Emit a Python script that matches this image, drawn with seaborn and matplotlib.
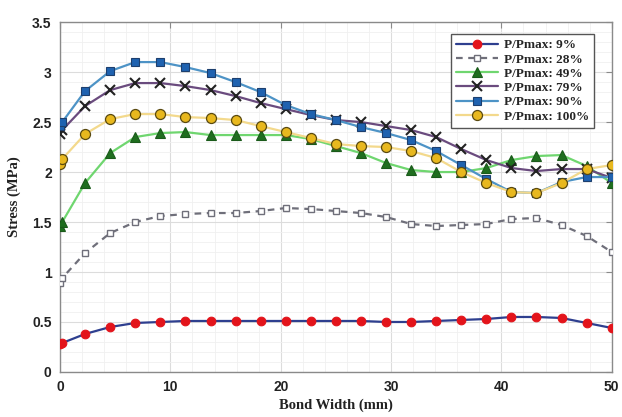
import numpy as np
import pandas as pd
import matplotlib
matplotlib.use("Agg")
import matplotlib.pyplot as plt
import seaborn as sns
from matplotlib.ticker import MultipleLocator

# ---- data ----
bond_width = [0, 0.2, 2.27, 4.55, 6.82, 9.09, 11.36, 13.64, 15.91, 18.18, 20.45, 22.73,
              25.0, 27.27, 29.55, 31.82, 34.09, 36.36, 38.64, 40.91, 43.18, 45.45, 47.73, 50.0]
s09 = [0.28, 0.29, 0.38, 0.45, 0.49, 0.50, 0.51, 0.51, 0.51, 0.51, 0.51, 0.51,
       0.51, 0.51, 0.50, 0.50, 0.51, 0.52, 0.53, 0.55, 0.55, 0.54, 0.49, 0.44]
s28 = [0.89, 0.94, 1.19, 1.39, 1.50, 1.56, 1.58, 1.59, 1.59, 1.61, 1.64, 1.63,
       1.61, 1.59, 1.55, 1.48, 1.46, 1.47, 1.48, 1.53, 1.54, 1.47, 1.36, 1.20]
s49 = [1.46, 1.50, 1.89, 2.19, 2.35, 2.39, 2.40, 2.37, 2.37, 2.37, 2.37, 2.33,
       2.26, 2.19, 2.09, 2.02, 2.00, 2.00, 2.04, 2.12, 2.16, 2.17, 2.06, 1.89]
s79 = [2.38, 2.42, 2.66, 2.82, 2.89, 2.89, 2.86, 2.82, 2.76, 2.69, 2.63, 2.57,
       2.52, 2.50, 2.46, 2.42, 2.35, 2.23, 2.12, 2.04, 2.01, 2.03, 2.03, 1.94]
s90 = [2.46, 2.50, 2.81, 3.01, 3.10, 3.10, 3.05, 2.99, 2.90, 2.80, 2.67, 2.58,
       2.52, 2.45, 2.39, 2.32, 2.21, 2.07, 1.93, 1.80, 1.79, 1.90, 1.95, 1.95]
s100 = [2.08, 2.13, 2.38, 2.53, 2.58, 2.58, 2.55, 2.54, 2.52, 2.46, 2.40, 2.34,
        2.28, 2.26, 2.25, 2.21, 2.14, 2.00, 1.89, 1.80, 1.79, 1.89, 2.03, 2.07]
labels = ["P/Pmax: 9%", "P/Pmax: 28%", "P/Pmax: 49%", "P/Pmax: 79%", "P/Pmax: 90%", "P/Pmax: 100%"]
x_ticks = [0, 10, 20, 30, 40, 50]
y_ticks = [0, 0.5, 1, 1.5, 2, 2.5, 3, 3.5]

series = [s09, s28, s49, s79, s90, s100]
df = pd.concat([pd.DataFrame({"x": bond_width, "y": s, "series": lab})
                for s, lab in zip(series, labels)], ignore_index=True)

styles = {
    "P/Pmax: 9%":   dict(color="#2e3f8f", ls="-",  marker="o", ms=6.2, mfc="#e3141b", mec="#e3141b", mew=0.8),
    "P/Pmax: 28%":  dict(color="#6f6f7a", ls=(0, (3, 2.5)), marker="s", ms=5, mfc="white", mec="#6f6f7a", mew=1.0),
    "P/Pmax: 49%":  dict(color="#6fd66f", ls="-",  marker="^", ms=7.5, mfc="#1f6e1f", mec="#1a5a1a", mew=0.8),
    "P/Pmax: 79%":  dict(color="#6a4b7e", ls="-",  marker="x", ms=6.5, mfc="#222222", mec="#222222", mew=1.5),
    "P/Pmax: 90%":  dict(color="#4d93c6", ls="-",  marker="s", ms=5.5, mfc="#1f62b0", mec="#1d3f6e", mew=0.8),
    "P/Pmax: 100%": dict(color="#f3d98c", ls="-",  marker="o", ms=7.2, mfc="#e8b81e", mec="#5a4a10", mew=0.9),
}

sns.set_style("white")
fig = plt.figure(figsize=(6.22, 4.17), dpi=100)
ax = fig.add_axes([0.0965, 0.108, 0.887, 0.839])

for lab in labels:
    st = styles[lab]
    sub = df[df["series"] == lab]
    sns.lineplot(data=sub, x="x", y="y", ax=ax, color=st["color"], linestyle=st["ls"],
                 linewidth=1.6, marker=st["marker"], markersize=st["ms"],
                 markerfacecolor=st["mfc"], markeredgecolor=st["mec"], markeredgewidth=st["mew"],
                 label=lab, legend=False, zorder=3)

ax.set_xlim(0, 50)
ax.set_ylim(0, 3.5)
ax.set_xticks(x_ticks)
ax.set_yticks(y_ticks)
ax.set_xticklabels([str(t) for t in x_ticks])
ax.set_yticklabels([f"{t:g}" for t in y_ticks])
ax.xaxis.set_minor_locator(MultipleLocator(2))
ax.yaxis.set_minor_locator(MultipleLocator(0.1))
ax.grid(True, which="major", color="#dcdcdc", linewidth=0.8)
ax.grid(True, which="minor", color="#f0f0f0", linewidth=0.6)
ax.set_axisbelow(True)
for sp in ax.spines.values():
    sp.set_color("#8a8a8a")
    sp.set_linewidth(1.0)
ax.tick_params(axis="both", which="major", direction="in", length=4, color="#8a8a8a",
               labelsize=10, pad=6, top=True, right=True)
ax.tick_params(axis="both", which="minor", length=0)
for t in ax.get_xticklabels() + ax.get_yticklabels():
    t.set_fontweight("bold")
    t.set_family("Liberation Sans")
    t.set_color("#222222")

ax.set_xlabel("Bond Width (mm)", fontsize=10.5, fontweight="bold", family="Liberation Serif",
              color="#222222", labelpad=3)
ax.set_ylabel("Stress (MPa)", fontsize=10.5, fontweight="bold", family="Liberation Serif",
              color="#222222", labelpad=8)

handles, hl = ax.get_legend_handles_labels()
leg = ax.legend(handles, hl, loc="upper right", bbox_to_anchor=(0.98, 0.985),
                prop={"family": "Liberation Serif", "weight": "bold", "size": 9.5},
                frameon=True, fancybox=False, edgecolor="#555555", framealpha=1,
                handlelength=3.2, handletextpad=0.4, labelspacing=0.15, borderpad=0.4)
leg.get_frame().set_linewidth(1.0)

fig.savefig("out.png", dpi=100)
